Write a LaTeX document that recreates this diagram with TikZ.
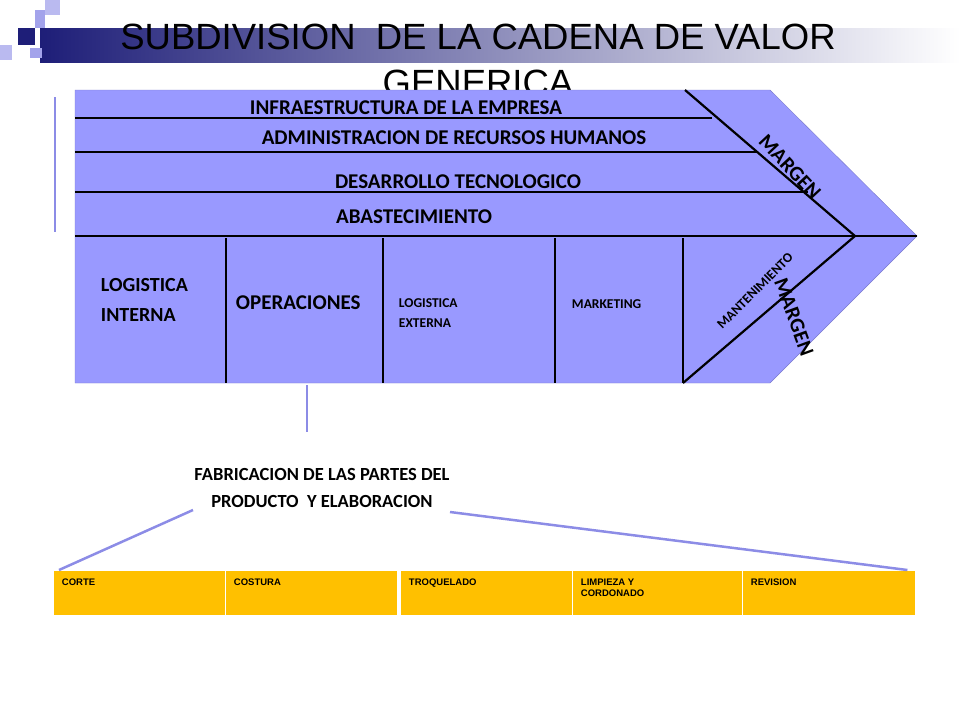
\documentclass[tikz,border=0pt]{standalone}
\usepackage{fontspec}
\setmainfont{Carlito}
\newfontfamily\titlefont{Liberation Sans}
\usetikzlibrary{positioning}
\definecolor{chainfill}{RGB}{153,153,255}
\definecolor{linkcol}{RGB}{140,140,230}
\definecolor{stepfill}{RGB}{255,192,0}
\definecolor{navyband}{RGB}{30,30,120}
\tikzset{
  bar/.style={line width=2.2pt},
  lbl/.style={inner sep=0.75pt,font=\bfseries\fontsize{21}{24}\selectfont},
  small/.style={inner sep=0.75pt,font=\bfseries\fontsize{13.5}{20}\selectfont,align=left},
  stepcell/.style={draw=white,fill=stepfill,minimum height=45pt,anchor=north west,inner sep=0pt},
  steptext/.style={anchor=north west,inner sep=0.75pt,align=left,font=\titlefont\bfseries\fontsize{9.5}{11}\selectfont},
  link/.style={draw=linkcol,line width=2.5pt}
}
\begin{document}
\begin{tikzpicture}[x=1pt,y=1pt,yscale=-1]
  \useasboundingbox (0,0) rectangle (960,720);
  % banner
  \shade[left color=navyband,right color=white] (40,28) rectangle (960,62);
  \fill[navyband] (18,28) rectangle (35,45);
  \fill[linkcol!80] (35,10) rectangle (45,28);
  \fill[linkcol!60] (45,0) rectangle (60,15);
  \fill[linkcol!60] (0,45) rectangle (12,60);
  \fill[linkcol!80] (30,48) rectangle (42,58);
  \node[font=\titlefont\fontsize{36.5}{46}\selectfont,align=center] (title) at (478,60)
    {SUBDIVISION\ \ DE LA CADENA DE VALOR\\GENERICA};
  % value chain arrow
  \fill[chainfill,draw=chainfill!80!black,thin] (75,90) -- (770,90) -- (917,236) -- (770,383) -- (75,383) -- cycle;
  \draw[bar] (75,118) -- (712,118);
  \draw[bar] (75,152) -- (757,152);
  \draw[bar] (75,192) -- (808,192);
  \draw[bar] (75,236) -- (917,236);
  \draw[bar] (685,90) -- (855,236) -- (683,383);
  \foreach \x in {226,383,555,683}
    \draw[bar] (\x,238) -- (\x,383);
  % support activities
  \node[lbl] (infra) at (406,108) {INFRAESTRUCTURA DE LA EMPRESA};
  \node[lbl] (rrhh) at (454,138) {ADMINISTRACION DE RECURSOS HUMANOS};
  \node[lbl] (tecno) at (458,182) {DESARROLLO TECNOLOGICO};
  \node[lbl] (abast) at (414,217) {ABASTECIMIENTO};
  \node[lbl,rotate=-47] (margen1) at (790,167) {MARGEN};
  % primary activities
  \node[lbl,align=left,anchor=west,font=\bfseries\fontsize{20}{30}\selectfont] (logint) at (100,300) {LOGISTICA\\INTERNA};
  \node[lbl,anchor=west] (oper) at (235,303) {OPERACIONES};
  \node[small,anchor=west] (logext) at (398,313) {LOGISTICA\\EXTERNA};
  \node[small,anchor=west] (mkt) at (571,304) {MARKETING};
  \node[small,rotate=45] (mant) at (755,291) {MANTENIMIENTO};
  \node[lbl,rotate=-70] (margen2) at (794,317) {MARGEN};
  % detail of operaciones
  \draw[link] (55,97) -- (55,232);
  \node[lbl,align=center,font=\bfseries\fontsize{18.5}{27}\selectfont] (fabric) at (322,488)
    {FABRICACION DE LAS PARTES DEL\\PRODUCTO \ Y ELABORACION};
  \coordinate (opbase) at (307,385);
  \coordinate (optip) at (307,432);
  \draw[link] (opbase) -- (optip);
  \coordinate (fabL) at (193,510);
  \coordinate (fabR) at (450,512);
  \foreach \name/\x in {corte/53,costura/225,troq/400,limp/572}
    \node[stepcell,minimum width=172pt] (\name) at (\x,570) {};
  \node[stepcell,minimum width=173pt] (rev) at (742,570) {};
  \foreach \name/\txt in {corte/CORTE,costura/COSTURA,troq/TROQUELADO,limp/{LIMPIEZA Y\\CORDONADO},rev/REVISION}
    \node[steptext] at ([xshift=8pt,yshift=8pt]\name.north west) {\txt};
  \draw[link] (fabL) -- ([xshift=6pt]corte.north west);
  \draw[link] (fabR) -- ([xshift=-8pt]rev.north east);
\end{tikzpicture}
\end{document}
